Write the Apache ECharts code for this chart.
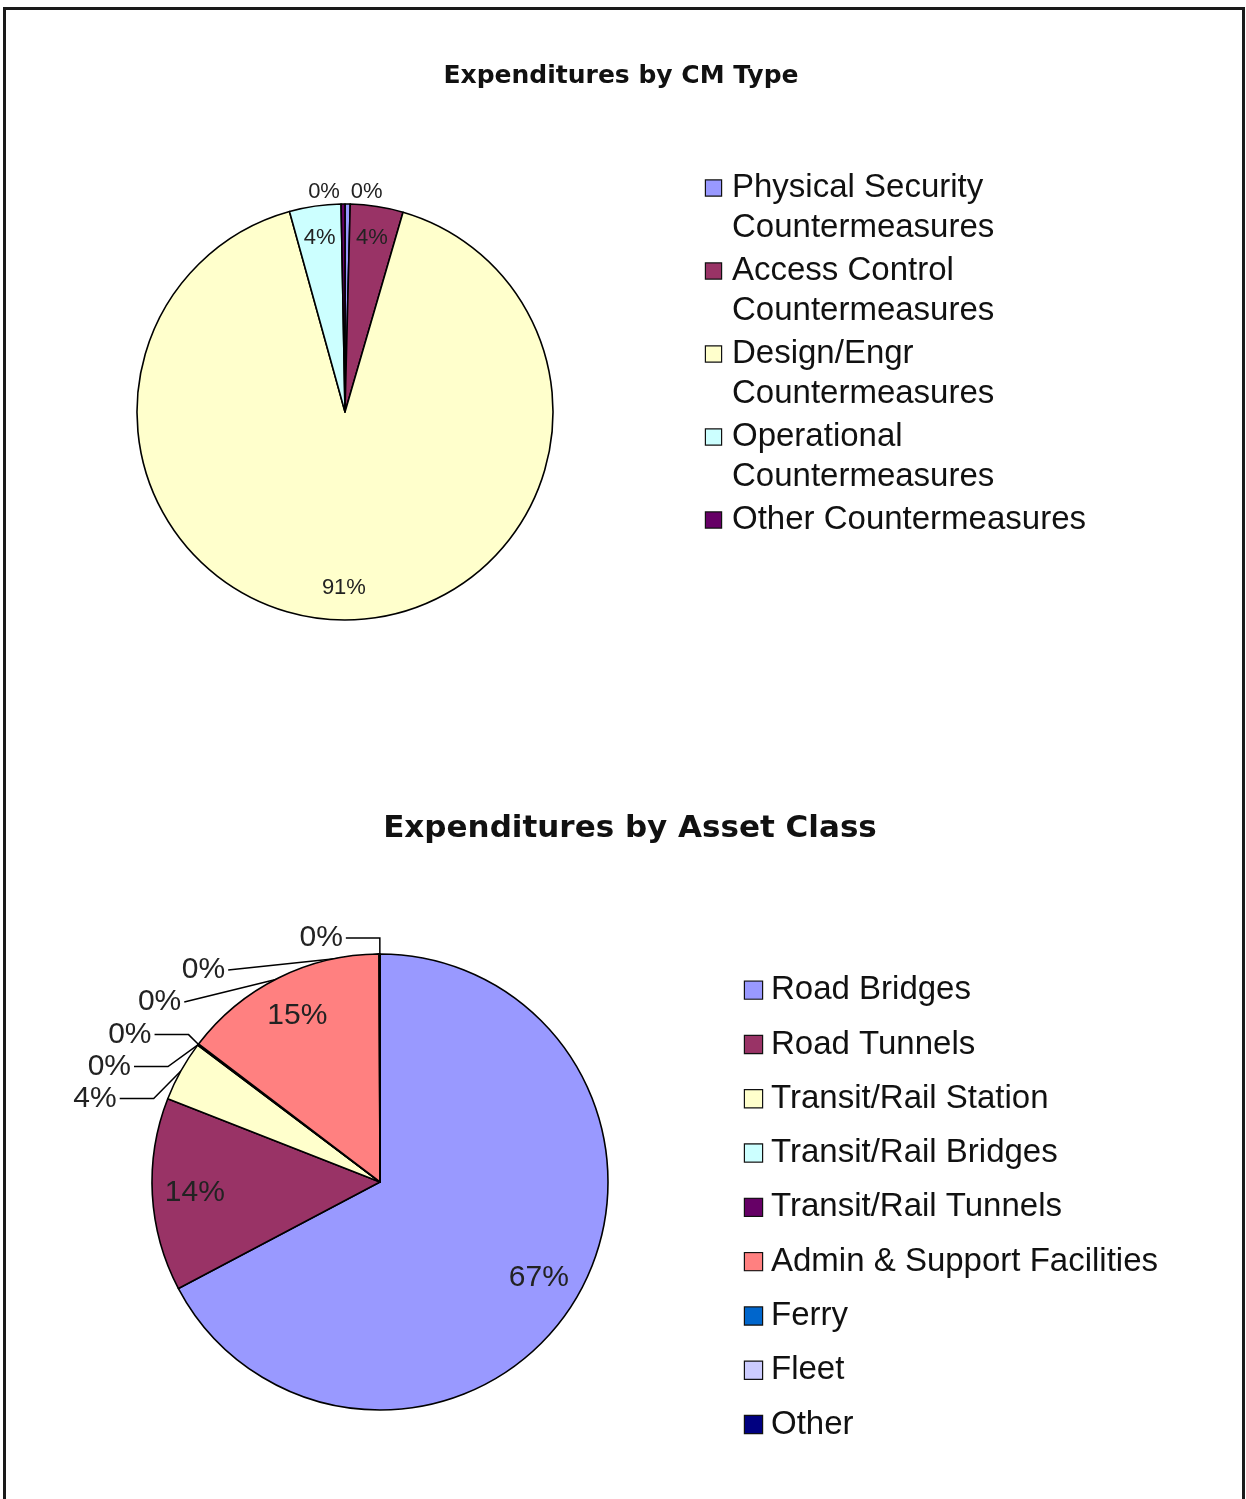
<!DOCTYPE html>
<html><head><meta charset="utf-8">
<script src="https://cdn.jsdelivr.net/npm/echarts@6/dist/echarts.min.js"></script>
<style>
html,body{margin:0;padding:0;background:#fff;overflow:hidden;}
#chart{position:absolute;left:0;top:0;width:1246px;height:1499px;}
#frame{position:absolute;left:3px;top:7px;width:1242px;height:1530px;border:3px solid #1a1a1a;box-sizing:border-box;pointer-events:none;z-index:5;}
</style></head><body>
<div id="chart"></div>
<div id="frame"></div>
<script>
// ---- data ----
const cmTitle = 'Expenditures by CM Type';
const cmCategories = ['Physical Security Countermeasures', 'Access Control Countermeasures', 'Design/Engr Countermeasures', 'Operational Countermeasures', 'Other Countermeasures'];
const cmValues = [0.4, 4.1, 91.2, 4.0, 0.3];

const assetTitle = 'Expenditures by Asset Class';
const assetCategories = ['Road Bridges', 'Road Tunnels', 'Transit/Rail Station', 'Transit/Rail Bridges', 'Transit/Rail Tunnels', 'Admin & Support Facilities', 'Ferry', 'Fleet', 'Other'];
const assetValues = [67.3, 13.7, 4.3, 0.05, 0.05, 14.6, 0.02, 0.02, 0.02];

// ---- styles ----
const cmColors = ['#9999FF', '#993366', '#FFFFCC', '#CCFFFF', '#660066'];
const assetColors = ['#9999FF', '#993366', '#FFFFCC', '#CCFFFF', '#660066', '#FF8080', '#0066CC', '#CCCCFF', '#000080'];

const TEXT_FONT = '"Liberation Sans", Arial, sans-serif';
const TITLE_FONT = '"DejaVu Sans", Verdana, sans-serif';

function pctFmt(p) { return Math.round(p.percent) + '%'; }

function wrapWords(name, maxChars) {
  const words = name.split(' ');
  const lines = [];
  let cur = '';
  words.forEach(w => {
    if (!cur) cur = w;
    else if ((cur + ' ' + w).length <= maxChars) cur += ' ' + w;
    else { lines.push(cur); cur = w; }
  });
  if (cur) lines.push(cur);
  return lines;
}

function buildPie(cfg) {
  const sum = cfg.values.reduce((a, b) => a + b, 0);
  const small = cfg.values.map(v => v / sum * 100 < cfg.outsideBelow);
  const mainData = cfg.names.map((n, i) => ({
    name: n, value: cfg.values[i],
    itemStyle: { color: cfg.colors[i] },
    label: { show: small[i] },
    labelLine: { show: small[i] && cfg.leader }
  }));
  const labelData = cfg.names.map((n, i) => ({
    name: n, value: cfg.values[i],
    label: { show: !small[i] }
  }));
  const main = {
    type: 'pie', center: cfg.center, radius: cfg.radius,
    startAngle: 90, clockwise: true,
    avoidLabelOverlap: true,
    data: mainData,
    itemStyle: { borderColor: '#000', borderWidth: 1.6 },
    label: {
      position: 'outside', formatter: pctFmt, distanceToLabelLine: 3,
      fontFamily: TEXT_FONT, fontSize: cfg.labelSize, color: '#222'
    },
    labelLine: {
      length: cfg.lineLen, length2: cfg.lineLen2, smooth: false,
      lineStyle: { color: '#000', width: 1.5 }
    },
    emphasis: { scale: false }
  };
  const labels = {
    type: 'pie', center: cfg.center, radius: [cfg.radius * cfg.innerK, cfg.radius],
    startAngle: 90, clockwise: true, silent: true,
    data: labelData,
    itemStyle: { color: 'rgba(0,0,0,0)', borderWidth: 0 },
    label: {
      position: 'inside', formatter: pctFmt,
      fontFamily: TEXT_FONT, fontSize: cfg.labelSize, color: '#222'
    },
    labelLine: { show: false },
    emphasis: { disabled: true },
    tooltip: { show: false }
  };
  return [main, labels];
}

function buildLegend(cfg) {
  const rich = {
    g: { width: cfg.gap, height: 1 },
    ind: { width: cfg.iconSize + cfg.gap, height: 1 },
    t: { fontFamily: TEXT_FONT, fontSize: cfg.fontSize, color: '#111', lineHeight: cfg.lineHeight }
  };
  cfg.colors.forEach((c, i) => {
    rich['s' + i] = { width: cfg.iconSize, height: cfg.iconSize, backgroundColor: c, borderColor: '#111', borderWidth: 1.2 };
  });
  return {
    orient: 'vertical', left: cfg.left, top: cfg.top, padding: 0,
    icon: 'none', itemWidth: 0, itemHeight: 0, itemGap: cfg.itemGap,
    data: cfg.names,
    formatter: function (name) {
      const idx = cfg.names.indexOf(name);
      const lines = wrapWords(name, cfg.wrapChars);
      return lines.map((ln, k) => (k === 0 ? '{s' + idx + '|}{g|}' : '{ind|}') + '{t|' + ln + '}').join('\n');
    },
    textStyle: { fontFamily: TEXT_FONT, fontSize: cfg.fontSize, lineHeight: cfg.lineHeight, rich: rich }
  };
}

const cmPie = buildPie({
  names: cmCategories, values: cmValues, colors: cmColors,
  center: [345, 412], radius: 208, innerK: 0.66, outsideBelow: 2,
  leader: false, lineLen: 12, lineLen2: 0, labelSize: 22
});
const assetPie = buildPie({
  names: assetCategories, values: assetValues, colors: assetColors,
  center: [380, 1182], radius: 228, innerK: 0.6, outsideBelow: 5,
  leader: true, lineLen: 16, lineLen2: 34, labelSize: 30
});

const option = {
  backgroundColor: 'transparent',
  animation: false,
  title: [
    {
      text: cmTitle, left: 621, top: 76, padding: 0,
      textAlign: 'center', textVerticalAlign: 'middle',
      textStyle: { fontFamily: TITLE_FONT, fontWeight: 'bold', fontSize: 25, color: '#111' }
    },
    {
      text: assetTitle, left: 630, top: 829, padding: 0,
      textAlign: 'center', textVerticalAlign: 'middle',
      textStyle: { fontFamily: TITLE_FONT, fontWeight: 'bold', fontSize: 31, color: '#111' }
    }
  ],
  legend: [
    buildLegend({ names: cmCategories, colors: cmColors, left: 701, top: 168, itemGap: 3, lineHeight: 40, fontSize: 33, iconSize: 15, gap: 11, wrapChars: 22 }),
    buildLegend({ names: assetCategories, colors: assetColors, left: 740, top: 963, itemGap: 0, lineHeight: 54.3, fontSize: 33, iconSize: 17, gap: 9, wrapChars: 60 })
  ],
  series: cmPie.concat(assetPie)
};

const chart = echarts.init(document.getElementById('chart'), null, { renderer: 'canvas' });
chart.setOption(option);
</script>
</body></html>
